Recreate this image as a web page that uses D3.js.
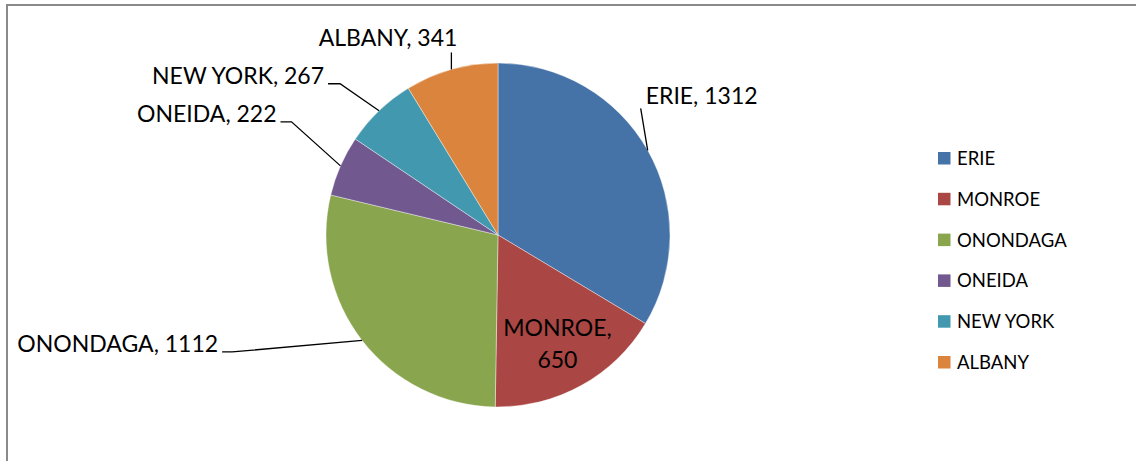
<!DOCTYPE html>
<html>
<head>
<meta charset="utf-8">
<script src="https://cdn.jsdelivr.net/npm/d3@7/dist/d3.min.js"></script>
<style>
  html, body { margin: 0; padding: 0; background: #fff; }
  svg { display: block; font-family: Lato, "Open Sans", sans-serif; }
</style>
</head>
<body>
<svg id="chart" width="1145" height="461"></svg>
<script>
// County counts
const categories = ["ERIE", "MONROE", "ONONDAGA", "ONEIDA", "NEW YORK", "ALBANY"];
const values = [1312, 650, 1112, 222, 267, 341];
const colors = ["#4572A7", "#AA4643", "#89A54E", "#71588F", "#4198AF", "#DB843D"];

const W = 1145, H = 461;
const cx = 498, cy = 235, R = 172;

const svg = d3.select("#chart");

// chart frame (top and left edges visible)
svg.append("path")
  .attr("d", `M7,${H} L7,5 L1136,5`)
  .attr("fill", "none")
  .attr("stroke", "#8a8a8a")
  .attr("stroke-width", 2);

const data = categories.map((c, i) => ({ name: c, value: values[i], color: colors[i] }));

const pie = d3.pie().sort(null).value(d => d.value).startAngle(0).endAngle(2 * Math.PI);
const arcs = pie(data);
const arc = d3.arc().innerRadius(0).outerRadius(R);

const g = svg.append("g").attr("transform", `translate(${cx},${cy})`);

g.selectAll("path.slice")
  .data(arcs)
  .join("path")
  .attr("class", "slice")
  .attr("d", arc)
  .attr("fill", d => d.data.color)
  .attr("stroke", "#fff")
  .attr("stroke-width", 0.4);

// point on the rim at a slice's middle angle
function rimPoint(d) {
  const a = (d.startAngle + d.endAngle) / 2;
  return [R * Math.sin(a), -R * Math.cos(a)];
}

// callout placement: leader end relative to rim point, knee length, text offset
const callouts = {
  "ERIE":     { dx: -7,   dy: -42, knee: 0,  anchor: "start", tx: 5,  ty: -4 },
  "ONONDAGA": { dx: -140, dy: 11.5, knee: 10, anchor: "end",   tx: -4, ty: 0 },
  "ONEIDA":   { dx: -60,  dy: -44, knee: 11, anchor: "end",   tx: -4, ty: 0 },
  "NEW YORK": { dx: -51,  dy: -27, knee: 12, anchor: "end",   tx: -4, ty: 0 },
  "ALBANY":   { dx: 0,    dy: -17, knee: 0,  anchor: "end",   tx: 6,  ty: -6 }
};

const labelFont = 23;

arcs.forEach(d => {
  const name = d.data.name;
  const text = `${name}, ${d.data.value}`;
  const c = callouts[name];
  if (!c) {
    // label inside the slice
    const inner = d3.arc().innerRadius(R * 0.7).outerRadius(R * 0.7);
    const [x, y] = inner.centroid(d);
    const t = g.append("text")
      .attr("text-anchor", "middle")
      .attr("font-size", labelFont)
      .attr("fill", "#000");
    t.append("tspan").attr("x", x + 1).attr("y", y - 4).text(`${name},`);
    t.append("tspan").attr("x", x + 1).attr("y", y + 28).text(`${d.data.value}`);
    return;
  }
  const [rx, ry] = rimPoint(d);
  const ex = rx + c.dx, ey = ry + c.dy;
  const pts = [[ex, ey]];
  if (c.knee) pts.push([ex + c.knee, ey]);
  pts.push([rx, ry]);
  g.append("path")
    .attr("d", d3.line()(pts))
    .attr("fill", "none")
    .attr("stroke", "#000")
    .attr("stroke-width", 1.3);
  g.append("text")
    .attr("x", ex + c.tx)
    .attr("y", ey + c.ty)
    .attr("text-anchor", c.anchor)
    .attr("font-size", labelFont)
    .attr("fill", "#000")
    .text(text);
});

// legend
const legend = svg.append("g").attr("transform", "translate(938,158)");
const rowStep = 40.8;
const items = legend.selectAll("g.item")
  .data(data)
  .join("g")
  .attr("class", "item")
  .attr("transform", (d, i) => `translate(0,${i * rowStep})`);
items.append("rect")
  .attr("x", 0).attr("y", -6)
  .attr("width", 12.5).attr("height", 12.5)
  .attr("fill", d => d.color);
items.append("text")
  .attr("x", 19).attr("y", 7)
  .attr("font-size", 18.5)
  .attr("fill", "#000")
  .text(d => d.name);
</script>
</body>
</html>
